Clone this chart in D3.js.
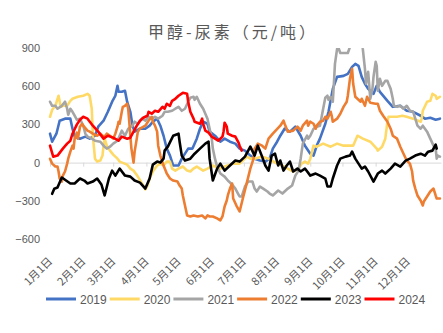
<!DOCTYPE html>
<html lang="zh">
<head>
<meta charset="utf-8">
<title>甲醇-尿素（元/吨）</title>
<script src="https://cdnjs.cloudflare.com/ajax/libs/d3/7.8.5/d3.min.js"></script>
<style>
    body { margin: 0; background: #fff; }
    svg { display: block; background: #fff; font-family: "Liberation Sans", Arial, sans-serif; }
    .title { font-family: "Noto Sans CJK SC", sans-serif; font-size: 16px; fill: #595959; letter-spacing: 3px; }
    .y.axis text { fill: #595959; font-size: 11px; }
    .x.axis path, .x.axis line { stroke: #d9d9d9; }
    .xlab { font-family: "Noto Sans CJK SC", sans-serif; font-size: 11px; fill: #595959; }
    .legend text { font-size: 12px; fill: #595959; }
    .series { fill: none; stroke-width: 2.6; stroke-linejoin: round; stroke-linecap: round; }
</style>
</head>
<body>
<script>
// 每条序列: [年内第几天, 价差 元/吨]
var d2019 = [[0,227],[2,164],[6,227],[9,329],[14,345],[19,345],[21,266],[23,204],[28,188],[33,204],[37,188],[42,211],[45,282],[50,329],[54,399],[58,478],[61,525],[63,603],[64,556],[67,556],[70,564],[72,478],[75,399],[77,290],[79,243],[84,266],[89,266],[93,290],[96,321],[100,345],[103,290],[106,211],[109,110],[112,55],[115,-23],[120,-23],[123,31],[129,110],[133,110],[137,188],[140,266],[143,321],[147,305],[149,243],[154,211],[159,164],[163,188],[168,164],[173,149],[177,110],[182,94],[187,55],[191,31],[196,16],[201,8],[205,31],[208,110],[212,164],[215,211],[219,266],[224,243],[229,282],[234,211],[238,133],[243,70],[246,55],[249,133],[252,188],[257,305],[260,399],[264,579],[268,673],[274,681],[278,697],[282,752],[285,775],[288,760],[291,673],[294,619],[297,579],[302,540],[305,603],[308,556],[315,485],[320,438],[327,446],[333,407],[339,399],[346,368],[350,345],[355,352],[360,337],[364,345]];

var d2020 = [[0,360],[2,415],[5,446],[7,501],[8,525],[10,438],[12,446],[16,446],[19,485],[21,501],[26,517],[31,525],[35,540],[37,525],[39,423],[40,211],[42,31],[44,8],[47,16],[49,55],[50,133],[51,188],[53,133],[56,94],[59,63],[63,31],[65,8],[72,-16],[75,-47],[78,-63],[82,-110],[87,-180],[89,-211],[91,-180],[93,-125],[96,-70],[100,-23],[103,-8],[106,-23],[109,8],[112,8],[114,-47],[117,-63],[120,-47],[124,-31],[128,-63],[131,-70],[134,-47],[137,-31],[140,-47],[143,-63],[147,-47],[152,-23],[159,-47],[163,-31],[171,-8],[177,-8],[180,16],[184,47],[187,31],[191,31],[198,47],[204,31],[207,16],[212,-8],[217,-23],[222,-47],[227,-70],[232,-47],[235,-8],[238,8],[241,-8],[243,31],[246,133],[249,125],[255,149],[262,125],[268,149],[274,133],[283,133],[285,172],[287,211],[292,188],[299,164],[305,110],[306,94],[310,125],[313,188],[315,321],[316,360],[324,360],[329,368],[333,360],[339,345],[346,321],[347,345],[348,407],[352,478],[355,485],[357,540],[360,525],[361,501],[364,517]];

var d2021 = [[0,478],[2,446],[5,446],[7,423],[11,446],[14,478],[16,423],[17,376],[19,423],[21,399],[23,368],[25,337],[28,345],[31,290],[33,227],[35,204],[39,188],[42,172],[47,164],[50,133],[53,110],[56,125],[59,149],[63,172],[65,211],[67,251],[70,211],[73,266],[77,290],[79,321],[82,305],[86,345],[89,329],[92,360],[95,345],[98,360],[101,345],[105,368],[107,399],[110,399],[114,407],[117,423],[120,438],[123,407],[126,423],[129,478],[131,509],[134,517],[135,493],[137,517],[140,462],[143,423],[147,345],[149,266],[151,188],[152,110],[154,31],[156,-31],[159,-86],[163,-110],[166,-141],[170,-172],[173,-204],[176,-251],[177,-266],[179,-266],[182,-188],[185,-149],[189,-149],[191,-204],[193,-227],[196,-188],[199,-204],[203,-227],[205,-243],[208,-258],[213,-219],[217,-243],[219,-227],[222,-204],[226,-180],[229,-102],[232,-63],[234,31],[236,149],[240,211],[241,188],[243,211],[246,266],[249,282],[252,290],[255,423],[257,509],[259,525],[260,493],[262,517],[264,478],[265,619],[266,775],[268,893],[269,908],[271,861],[274,861],[278,861],[280,908],[282,947],[283,1050],[288,1050],[291,1050],[292,893],[294,736],[295,619],[297,713],[299,501],[301,579],[302,673],[304,791],[305,760],[306,564],[308,658],[310,603],[313,642],[315,642],[316,619],[318,579],[320,501],[321,446],[324,438],[327,446],[330,423],[333,446],[336,407],[339,399],[341,345],[343,290],[346,266],[348,290],[352,243],[355,188],[358,133],[360,110],[361,31],[362,55],[364,47]];

var d2022 = [[0,30],[2,-8],[5,-31],[7,-31],[8,-70],[9,-125],[11,-149],[12,-102],[14,-70],[16,-8],[17,31],[19,86],[21,133],[22,110],[23,188],[25,235],[26,188],[28,282],[30,305],[31,290],[35,251],[37,243],[40,227],[44,211],[47,227],[49,211],[51,204],[53,227],[56,211],[59,188],[61,227],[63,282],[64,321],[65,305],[67,399],[68,438],[70,446],[72,462],[73,423],[74,321],[75,211],[76,110],[78,0],[79,86],[81,188],[82,243],[84,266],[89,290],[92,329],[95,360],[96,321],[98,290],[100,243],[101,133],[103,55],[106,-23],[109,-86],[112,-125],[115,-141],[119,-149],[121,-180],[123,-204],[124,-258],[126,-337],[128,-415],[131,-423],[134,-415],[138,-423],[142,-415],[145,-438],[147,-415],[149,-423],[152,-423],[156,-438],[159,-454],[161,-423],[162,-384],[163,-345],[165,-298],[166,-258],[168,-204],[170,-164],[171,-282],[174,-337],[177,-384],[180,-282],[184,-149],[187,-47],[190,31],[191,110],[194,149],[198,133],[201,110],[204,188],[208,227],[215,290],[218,329],[219,305],[222,243],[227,251],[231,282],[234,251],[236,290],[240,329],[241,290],[243,321],[246,305],[248,266],[249,290],[252,321],[255,329],[257,360],[259,345],[262,399],[263,368],[264,321],[268,345],[271,384],[274,438],[277,478],[278,525],[280,658],[282,736],[283,619],[285,517],[290,478],[291,501],[294,446],[296,517],[299,470],[304,462],[306,462],[308,407],[311,368],[315,321],[318,266],[320,211],[324,188],[327,125],[330,70],[333,16],[336,-8],[338,-70],[339,-141],[341,-204],[343,-258],[346,-298],[348,-337],[349,-305],[352,-266],[355,-227],[358,-204],[360,-258],[361,-282],[364,-282]];

var d2023 = [[2,-245],[4,-205],[7,-196],[11,-117],[15,-141],[19,-164],[23,-164],[28,-125],[32,-141],[35,-164],[40,-149],[44,-125],[48,-172],[51,-258],[55,-125],[58,-63],[61,-102],[65,-47],[70,-102],[75,-110],[79,-141],[84,-157],[89,-204],[93,-125],[96,-16],[100,8],[103,0],[106,31],[107,94],[110,125],[115,211],[120,227],[121,164],[123,55],[126,16],[131,31],[135,70],[140,110],[145,149],[148,164],[149,31],[152,-141],[156,-47],[159,-8],[163,-63],[168,-23],[173,16],[177,8],[182,47],[187,125],[191,55],[194,133],[198,47],[201,-23],[204,-63],[207,55],[210,70],[213,-23],[215,16],[218,-63],[221,-23],[224,8],[227,-70],[231,-47],[234,-70],[238,-47],[243,-102],[248,-86],[252,-102],[257,-125],[259,-188],[262,-188],[264,-125],[268,-23],[271,31],[276,47],[280,55],[282,86],[285,31],[288,-8],[291,-47],[294,-31],[297,-70],[302,-149],[306,-86],[310,-63],[313,-86],[318,-47],[322,-8],[327,-31],[332,16],[336,31],[341,55],[346,70],[350,55],[353,86],[357,94],[360,141],[361,110]];

var d2024 = [[0,133],[3,47],[7,55],[12,110],[16,149],[19,172],[21,227],[25,298],[28,337],[31,360],[35,345],[40,290],[45,243],[50,188],[54,211],[59,196],[64,172],[67,204],[72,188],[75,196],[78,243],[81,290],[84,329],[87,352],[91,368],[92,399],[95,384],[98,407],[101,399],[105,438],[107,423],[109,462],[112,446],[114,485],[117,501],[120,525],[124,548],[128,540],[129,478],[131,399],[134,345],[135,321],[140,305],[142,345],[143,305],[145,251],[148,235],[151,204],[154,188],[157,172],[161,204],[162,243],[163,313],[165,282],[166,227],[170,211],[173,204],[176,157],[177,133],[179,94]];

var years = ["2019", "2020", "2021", "2022", "2023", "2024"];
var colors = ["#4472C4", "#FFD966", "#A5A5A5", "#ED7D31", "#000000", "#FF0000"];
var seriesData = [d2019, d2020, d2021, d2022, d2023, d2024];

var monthStarts = [0, 31, 59, 90, 120, 151, 181, 212, 243, 273, 304, 334];
var monthLabels = ["1月1日", "2月1日", "3月1日", "4月1日", "5月1日", "6月1日",
                   "7月1日", "8月1日", "9月1日", "10月1日", "11月1日", "12月1日"];
var yTicks = [-600, -300, 0, 300, 600, 900];

var fullwidth = 443, fullheight = 333;

var svg = d3.select("body").append("svg")
    .attr("width", fullwidth)
    .attr("height", fullheight);

var xScale = d3.scaleLinear().domain([0, 365]).range([50, 441]);
var yScale = d3.scaleLinear().domain([-600, 900]).range([239, 48]);

svg.append("text")
    .attr("class", "title")
    .attr("x", 233)
    .attr("y", 38)
    .attr("text-anchor", "middle")
    .text("甲醇-尿素（元/吨）");

// 绘图区裁剪, 超出 900 的部分不画
svg.append("clipPath").attr("id", "plot")
  .append("rect")
    .attr("x", xScale(0) - 2)
    .attr("y", yScale(900))
    .attr("width", xScale(365) - xScale(0) + 4)
    .attr("height", yScale(-600) - yScale(900) + 2);

var yAxis = d3.axisLeft(yScale).tickValues(yTicks).tickSize(0).tickPadding(3);
svg.append("g")
    .attr("class", "y axis")
    .attr("transform", "translate(43,0)")
    .call(yAxis)
    .call(function(g) { g.select(".domain").remove(); });

var xAxis = d3.axisBottom(xScale).tickValues(monthStarts).tickSize(4).tickSizeOuter(0).tickFormat("");
svg.append("g")
    .attr("class", "x axis")
    .attr("transform", "translate(0," + yScale(0) + ")")
    .call(xAxis);

// 月份标签放在图底部, 斜 45 度
svg.append("g").selectAll("text")
    .data(monthStarts)
    .enter()
    .append("text")
    .attr("class", "xlab")
    .attr("text-anchor", "end")
    .attr("transform", function(d) { return "translate(" + (xScale(d) + 3) + ",262) rotate(-45)"; })
    .text(function(d, i) { return monthLabels[i]; });

var line = d3.line()
    .x(function(d) { return xScale(d[0]); })
    .y(function(d) { return yScale(d[1]); });

svg.append("g")
    .attr("clip-path", "url(#plot)")
    .selectAll("path")
    .data(seriesData)
    .enter()
    .append("path")
    .attr("class", "series")
    .attr("stroke", function(d, i) { return colors[i]; })
    .attr("d", line);

// 图例
var legend = svg.append("g").attr("class", "legend")
    .selectAll("g")
    .data(years)
    .enter()
    .append("g")
    .attr("transform", function(d, i) { return "translate(" + (46 + i * 63.7) + ",299)"; });

legend.append("line")
    .attr("x1", 0).attr("x2", 30)
    .attr("stroke", function(d, i) { return colors[i]; })
    .attr("stroke-width", 3);

legend.append("text")
    .attr("x", 34)
    .attr("y", 4.5)
    .text(function(d) { return d; });
</script>
</body>
</html>
